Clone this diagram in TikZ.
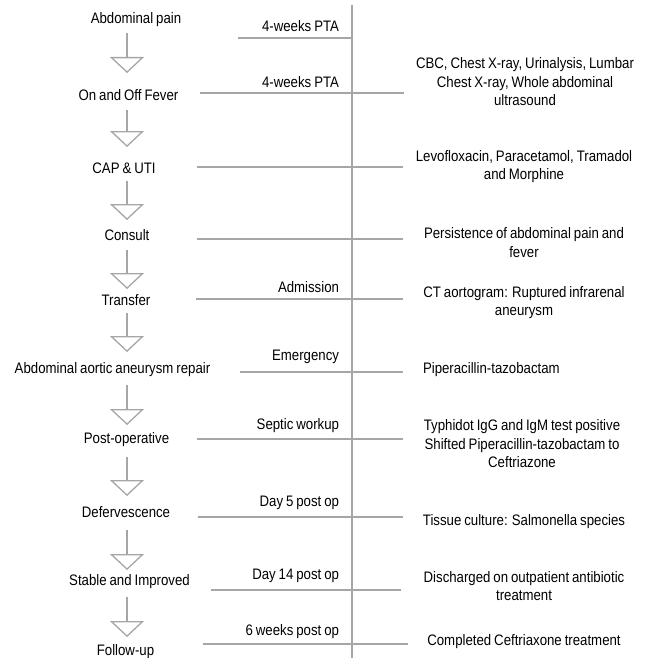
\documentclass[tikz,border=0pt]{standalone}
\usepackage{fontspec}
\setmainfont[FakeStretch=0.87,WordSpace=0.8]{Liberation Sans}
\usetikzlibrary{arrows.meta}
\definecolor{tlgray}{RGB}{166,166,166}
\begin{document}
\begin{tikzpicture}[x=1pt,y=-1pt,
  every node/.style={inner sep=0pt,outer sep=0pt,font=\fontsize{15.2}{18.5}\selectfont,text=black},
  stage/.style={anchor=center},
  when/.style={anchor=east},
  info/.style={anchor=center,align=center},
  tick/.style={draw=tlgray,line width=1.4pt},
  flow/.style={draw=tlgray,line width=1.3pt,-{Triangle[open,width=34pt,length=16pt]}}]
\useasboundingbox (0,0) rectangle (657,658);
% timeline axis
\coordinate (axtop) at (351.5,5);
\coordinate (axbot) at (351.5,658);
\draw[draw=tlgray,line width=2pt] (axtop) -- (axbot);
\coordinate (ax) at (127,0);
% stages
\node[stage] (s1) at (136,20) {Abdominal pain};
\node[stage] (s2) at (128.5,95) {On and Off Fever};
\node[stage] (s3) at (124,168) {CAP \& UTI};
\node[stage] (s4) at (127,235) {Consult};
\node[stage] (s5) at (126,300) {Transfer};
\node[stage] (s6) at (112.5,370) {Abdominal aortic aneurysm repair};
\node[stage] (s7) at (126.5,440) {Post-operative};
\node[stage] (s8) at (126,512) {Defervescence};
\node[stage] (s9) at (129.5,582) {Stable and Improved};
\node[stage] (s10) at (125.5,652) {Follow-up};
% flow arrows
\draw[flow,shorten <=13pt,shorten >=22pt] (ax |- s1.center) -- (ax |- s2.center);
\draw[flow,shorten <=15pt,shorten >=21pt] (ax |- s2.center) -- (ax |- s3.center);
\draw[flow,shorten <=13pt,shorten >=15pt] (ax |- s3.center) -- (ax |- s4.center);
\draw[flow,shorten <=15pt,shorten >=11pt] (ax |- s4.center) -- (ax |- s5.center);
\draw[flow,shorten <=13pt,shorten >=18pt] (ax |- s5.center) -- (ax |- s6.center);
\draw[flow,shorten <=15pt,shorten >=15pt] (ax |- s6.center) -- (ax |- s7.center);
\draw[flow,shorten <=17pt,shorten >=16pt] (ax |- s7.center) -- (ax |- s8.center);
\draw[flow,shorten <=18pt,shorten >=12pt] (ax |- s8.center) -- (ax |- s9.center);
\draw[flow,shorten <=15pt,shorten >=15pt] (ax |- s9.center) -- (ax |- s10.center);
% ticks
\draw[tick] (238,38) -- (351.5,38);
\draw[tick] (200,93) -- (404,93);
\draw[tick] (197,167) -- (403,167);
\draw[tick] (197,239) -- (403,239);
\draw[tick] (196,299) -- (403,299);
\draw[tick] (240,372) -- (403,372);
\draw[tick] (197,439) -- (403,439);
\draw[tick] (198,517) -- (403,517);
\draw[tick] (211,590) -- (401,590);
\draw[tick] (203,644) -- (408,644);
% time labels
\node[when] (w1) at (339,26) {4-weeks PTA};
\node[when] (w2) at (339,82) {4-weeks PTA};
\node[when] (w5) at (339,287) {Admission};
\node[when] (w6) at (339,357) {Emergency};
\node[when] (w7) at (339,426) {Septic workup};
\node[when] (w8) at (339,503) {Day 5 post op};
\node[when] (w9) at (339,576) {Day 14 post op};
\node[when] (w10) at (339,632) {6 weeks post op};
% details
\node[info] (d2) at (525,82) {CBC, Chest X-ray, Urinalysis, Lumbar\\Chest X-ray, Whole abdominal\\ultrasound};
\node[info] (d3) at (524,166.5) {Levofloxacin, Paracetamol, Tramadol\\and Morphine};
\node[info] (d4) at (524,242.5) {Persistence of abdominal pain and\\fever};
\node[info] (d5) at (524,302.5) {CT aortogram: Ruptured infrarenal\\aneurysm};
\node[anchor=west] (d6) at (423,370) {Piperacillin-tazobactam};
\node[info] (d7) at (522,444) {Typhidot IgG and IgM test positive\\Shifted Piperacillin-tazobactam to\\Ceftriazone};
\node[info] (d8) at (524,522) {Tissue culture: Salmonella species};
\node[info] (d9) at (524,586) {Discharged on outpatient antibiotic\\treatment};
\node[info] (d10) at (524,642) {Completed Ceftriaxone treatment};
\end{tikzpicture}
\end{document}
